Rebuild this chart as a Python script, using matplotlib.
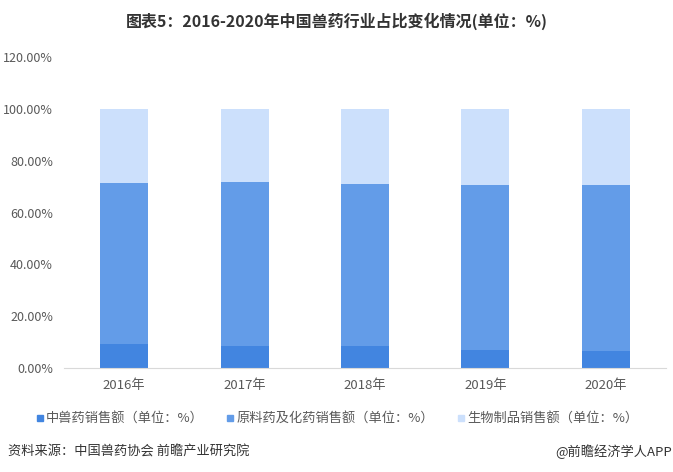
import numpy as np
import matplotlib.pyplot as plt
from matplotlib.lines import Line2D

plt.rcParams['font.family'] = ['Noto Sans CJK SC', 'DejaVu Sans']

years = ['2016年', '2017年', '2018年', '2019年', '2020年']
tcm = [9.2, 8.5, 8.4, 6.9, 6.6]           # 中兽药
chem = [62.3, 63.4, 62.8, 63.9, 64.2]     # 原料药及化药
bio = [28.5, 28.1, 28.8, 29.2, 29.2]      # 生物制品
labels = ['中兽药销售额（单位：%）', '原料药及化药销售额（单位：%）', '生物制品销售额（单位：%）']
colors = ['#4285e0', '#639ce8', '#cce0fc']

fig = plt.figure(figsize=(6.73, 4.72), dpi=100)
ax = fig.add_axes([0.0951, 0.2203, 0.8945, 0.6587])

x = np.arange(len(years))
w = 0.4
b1 = np.array(tcm)
b2 = b1 + np.array(chem)
ax.bar(x, tcm, w, color=colors[0], zorder=2)
ax.bar(x, chem, w, bottom=b1, color=colors[1], zorder=2)
ax.bar(x, bio, w, bottom=b2, color=colors[2], zorder=2)

ax.set_xlim(-0.5, len(years) - 0.5)
ax.set_ylim(0, 120)
ax.set_yticks(np.arange(0, 121, 20))
ax.set_yticklabels([f'{v:.2f}%' for v in np.arange(0, 121, 20)])
ax.set_xticks(x)
ax.set_xticklabels(years)
ax.tick_params(axis='both', length=0, labelsize=9, labelcolor='#595959')
ax.tick_params(axis='y', pad=8)
ax.tick_params(axis='x', pad=8, labelsize=9.5)
for s in ['top', 'right', 'left']:
    ax.spines[s].set_visible(False)
ax.spines['bottom'].set_color('#d9d9d9')

fig.text(0.5, 0.956, '图表5：2016-2020年中国兽药行业占比变化情况(单位：%)',
         ha='center', va='center', fontsize=11.5, fontweight='bold', color='#333333')

handles = [Line2D([], [], marker='s', linestyle='', markersize=5, color=c) for c in colors]
fig.legend(handles, labels, loc='center', bbox_to_anchor=(0.5, 0.112), ncol=3,
           frameon=False, fontsize=9.5, labelcolor='#595959', handletextpad=0.1,
           columnspacing=1.6, handlelength=0.8)

fig.text(0.012, 0.042, '资料来源：中国兽药协会 前瞻产业研究院', ha='left', va='center',
         fontsize=9.5, color='#333333')
fig.text(0.998, 0.042, '@前瞻经济学人APP', ha='right', va='center',
         fontsize=9.5, color='#333333')

fig.savefig('out.png', dpi=100)
